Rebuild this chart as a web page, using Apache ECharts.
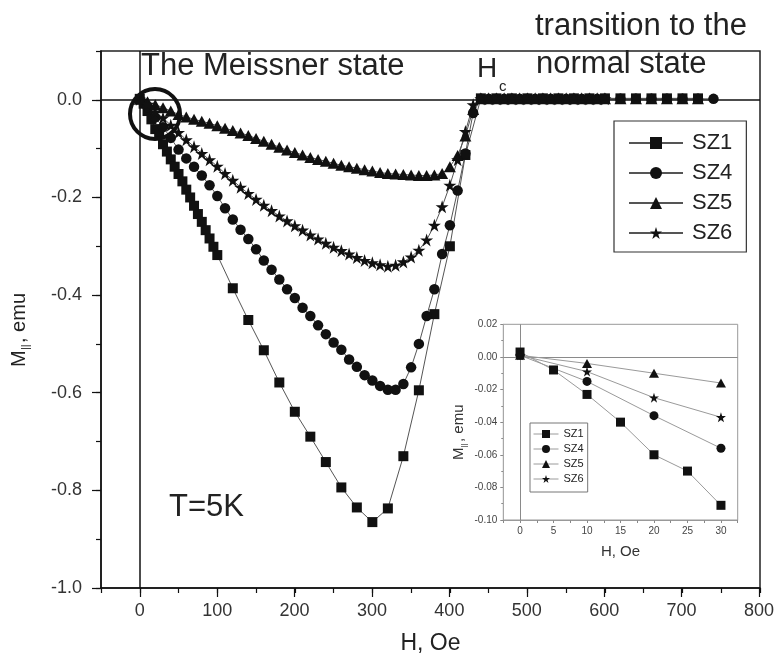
<!DOCTYPE html>
<html><head><meta charset="utf-8">
<script src="https://cdn.jsdelivr.net/npm/echarts@6/dist/echarts.min.js"></script>
<style>html,body{margin:0;padding:0;background:#fff}#c{width:777px;height:661px}</style>
</head><body><div id="c"></div>
<script>
const FONT = "'Liberation Sans', Arial, Helvetica, sans-serif";

// ---------------- main chart data (H in Oe, M in emu) ----------------
const sz1H = [0,5,10,15,20,25,30,35,40,45,50,55,60,65,70,75,80,85,90,95,100,
  120,140,160,180,200,220,240,260,280,300,320,340,360,380,400,420,
  440,460,480,500,520,540,560,580,600,620,640,660,680,700,720];
const sz1M = [0.002,-0.008,-0.023,-0.040,-0.060,-0.070,-0.091,-0.106,-0.122,-0.137,-0.152,-0.167,-0.184,-0.200,-0.217,-0.234,-0.250,-0.267,-0.284,-0.301,-0.318,
  -0.386,-0.451,-0.513,-0.579,-0.639,-0.690,-0.742,-0.794,-0.835,-0.865,-0.837,-0.730,-0.595,-0.439,-0.300,-0.113,
  0.003,0.003,0.003,0.003,0.003,0.003,0.003,0.003,0.003,0.003,0.003,0.003,0.003,0.003,0.003];

const h10 = [0,10,20,30,40,50,60,70,80,90,100,110,120,130,140,150,160,170,180,190,200,
  210,220,230,240,250,260,270,280,290,300,310,320,330,340,350,360,370,380,390,400,
  410,420,430,440,450,460,470,480,490,500,510,520,530,540,550,560,570,580,590,600];

const sz4H = h10.concat([620,640,660,680,700,720,740]);
const sz4M = [0.001,-0.015,-0.036,-0.056,-0.078,-0.102,-0.120,-0.137,-0.155,-0.175,-0.197,
  -0.222,-0.245,-0.266,-0.285,-0.306,-0.329,-0.348,-0.368,-0.388,-0.406,
  -0.426,-0.443,-0.462,-0.480,-0.497,-0.512,-0.532,-0.547,-0.564,-0.575,
  -0.586,-0.594,-0.594,-0.582,-0.548,-0.500,-0.443,-0.388,-0.316,-0.257,
  -0.186,-0.110,-0.027,
  0.002,0.002,0.002,0.002,0.002,0.002,0.002,0.002,0.002,0.002,0.002,0.002,0.002,0.002,0.002,0.002,0.002,
  0.002,0.002,0.002,0.002,0.002,0.002,0.002];

const sz5H = h10.concat([620,640,660,680,700,720]);
const sz5M = [0.001,-0.004,-0.010,-0.016,-0.023,-0.030,-0.035,-0.040,-0.044,-0.048,-0.053,
  -0.058,-0.063,-0.068,-0.073,-0.079,-0.085,-0.091,-0.097,-0.103,-0.108,
  -0.113,-0.118,-0.122,-0.126,-0.130,-0.134,-0.137,-0.140,-0.143,-0.146,
  -0.149,-0.151,-0.152,-0.153,-0.154,-0.155,-0.155,-0.154,-0.151,-0.137,
  -0.114,-0.074,-0.020,
  0.002,0.002,0.002,0.002,0.002,0.002,0.002,0.002,0.002,0.002,0.002,0.002,0.002,0.002,0.002,0.002,0.002,
  0.002,0.002,0.002,0.002,0.002,0.002];

const sz6H = h10;
const sz6M = [0.001,-0.009,-0.025,-0.037,-0.052,-0.067,-0.082,-0.096,-0.110,-0.123,-0.136,
  -0.151,-0.165,-0.179,-0.192,-0.204,-0.216,-0.227,-0.238,-0.248,-0.258,
  -0.267,-0.277,-0.285,-0.294,-0.302,-0.309,-0.316,-0.323,-0.329,-0.334,
  -0.338,-0.341,-0.339,-0.332,-0.322,-0.308,-0.287,-0.257,-0.219,-0.175,
  -0.123,-0.065,-0.010,
  0.002,0.002,0.002,0.002,0.002,0.002,0.002,0.002,0.002,0.002,0.002,0.002,0.002,0.002,0.002,0.002,0.002];

// ---------------- inset data ----------------
const in1H = [0,5,10,15,20,25,30];
const in1M = [0.003,-0.008,-0.023,-0.040,-0.060,-0.070,-0.091];
const inH = [0,10,20,30];
const in4M = [0.001,-0.015,-0.036,-0.056];
const in5M = [0.001,-0.004,-0.010,-0.016];
const in6M = [0.001,-0.009,-0.025,-0.037];

const names = ['SZ1','SZ4','SZ5','SZ6'];
const mainXTicks = {min:-50, max:800, minor:50, major:100};

const STAR = 'path://M50,0L61.2,34.5L97.6,34.5L68.2,55.9L79.4,90.5L50,69.1L20.6,90.5L31.8,55.9L2.4,34.5L38.8,34.5Z';
const pairs = (H, M) => H.map((h, i) => [h, M[i]]);

function mainSeries(name, H, M, symbol, size, extra) {
  return Object.assign({
    name, type:'line', xAxisIndex:0, yAxisIndex:0, data:pairs(H, M),
    symbol, symbolSize:size, showSymbol:true, showAllSymbol:true,
    lineStyle:{color:'#555', width:1}, itemStyle:{color:'#111'},
    emphasis:{disabled:true}, z:3
  }, extra || {});
}
function insetSeries(name, H, M, symbol, size, extra) {
  return Object.assign({
    name, type:'line', xAxisIndex:2, yAxisIndex:2, data:pairs(H, M),
    symbol, symbolSize:size, showSymbol:true,
    lineStyle:{color:'#9a9a9a', width:1}, itemStyle:{color:'#111'},
    emphasis:{disabled:true}, z:12
  }, extra || {});
}

const zeroLines = (color, width) => ({
  silent:true, symbol:['none','none'], label:{show:false},
  lineStyle:{color, width, type:'solid'}, emphasis:{disabled:true},
  data:[{xAxis:0},{yAxis:0}]
});

const chart = echarts.init(document.getElementById('c'), null, {renderer:'canvas'});
const tickLine = {color:'#111', width:1.2};

chart.setOption({
  animation:false,
  backgroundColor:'#fff',
  color:['#111'],
  textStyle:{fontFamily:FONT},
  grid:[
    {left:101, top:51, right:17, bottom:73, show:true, borderColor:'#222', borderWidth:1.5, backgroundColor:'transparent'},
    {left:139.76, top:99.82, right:17, bottom:73, show:false},
    {left:503.3, top:324.3, right:39.3, bottom:141, show:true, borderColor:'#999', borderWidth:1, backgroundColor:'#fff', z:5}
  ],
  xAxis:[
    {gridIndex:0, type:'value', min:mainXTicks.min, max:mainXTicks.max, interval:mainXTicks.minor,
     axisLine:{show:true, onZero:false, lineStyle:{color:'#111', width:1.5}},
     axisTick:{show:true, length:5, lineStyle:tickLine}, axisLabel:{show:false}, splitLine:{show:false},
     name:'H, Oe', nameLocation:'middle', nameGap:44,
     nameTextStyle:{fontSize:23, color:'#222', fontFamily:FONT}},
    {gridIndex:1, type:'value', min:0, max:mainXTicks.max, interval:mainXTicks.major,
     axisLine:{show:false, onZero:false}, axisTick:{show:true, length:9, lineStyle:tickLine},
     axisLabel:{fontSize:18, color:'#333', margin:14, fontFamily:FONT}, splitLine:{show:false}},
    {gridIndex:2, type:'value', min:-2.5, max:32.5, interval:2.5,
     axisLine:{show:true, onZero:false, lineStyle:{color:'#999', width:1}},
     axisTick:{show:true, length:3, lineStyle:{color:'#888'}},
     axisLabel:{fontSize:10, color:'#444', margin:6, fontFamily:FONT,
       formatter:v => (Math.abs(v % 5) < 1e-9 ? String(v) : '')},
     splitLine:{show:false},
     name:'H, Oe', nameLocation:'middle', nameGap:24,
     nameTextStyle:{fontSize:15, color:'#333', fontFamily:FONT}}
  ],
  yAxis:[
    {gridIndex:0, type:'value', min:-1.0, max:0.1, interval:0.1,
     axisLine:{show:true, onZero:false, lineStyle:{color:'#111', width:1.5}},
     axisTick:{show:true, length:5, lineStyle:tickLine}, axisLabel:{show:false}, splitLine:{show:false}},
    {gridIndex:1, type:'value', min:-1.0, max:0, interval:0.2, offset:38.76,
     axisLine:{show:false, onZero:false}, axisTick:{show:true, length:9, lineStyle:tickLine},
     axisLabel:{fontSize:18, color:'#333', margin:19, fontFamily:FONT, formatter:v => v.toFixed(1)},
     splitLine:{show:false}},
    {gridIndex:2, type:'value', min:-0.10, max:0.02, interval:0.02,
     axisLine:{show:true, onZero:false, lineStyle:{color:'#999', width:1}},
     axisTick:{show:true, length:3, lineStyle:{color:'#888'}},
     minorTick:{show:true, splitNumber:2, length:2, lineStyle:{color:'#888'}},
     axisLabel:{fontSize:10, color:'#444', margin:6, fontFamily:FONT, formatter:v => v.toFixed(2)},
     splitLine:{show:false}}
  ],
  legend:[
    {data:names, orient:'vertical', left:614, top:121, padding:[11,14,8,14],
     itemWidth:54, itemHeight:15, itemGap:8, selectedMode:false,
     borderColor:'#333', borderWidth:1.2, backgroundColor:'#fff',
     textStyle:{fontSize:22, lineHeight:22, color:'#222', fontFamily:FONT, padding:[0,0,0,4]}},
    {data:names, orient:'vertical', left:530, top:423, padding:[5,4,7,3],
     itemWidth:25, itemHeight:10, itemGap:3, selectedMode:false,
     borderColor:'#777', borderWidth:1, backgroundColor:'#fff', z:20,
     lineStyle:{color:'#9a9a9a', width:1},
     textStyle:{fontSize:11, lineHeight:12, color:'#222', fontFamily:FONT}}
  ],
  series:[
    mainSeries('SZ1', sz1H, sz1M, 'rect', 10, {markLine:zeroLines('#111', 1.5)}),
    mainSeries('SZ4', sz4H, sz4M, 'circle', 10.5),
    mainSeries('SZ5', sz5H, sz5M, 'triangle', [12,11]),
    mainSeries('SZ6', sz6H, sz6M, STAR, 13),
    insetSeries('SZ1', in1H, in1M, 'rect', 9, {markLine:zeroLines('#8a8a8a', 1)}),
    insetSeries('SZ4', inH, in4M, 'circle', 9),
    insetSeries('SZ5', inH, in5M, 'triangle', [10,9]),
    insetSeries('SZ6', inH, in6M, STAR, 10)
  ],
  graphic:[
    {type:'circle', shape:{cx:155, cy:114, r:25}, style:{fill:'none', stroke:'#111', lineWidth:4}, z:100},
    {type:'text', x:141, y:66.5, z:100, style:{text:'The Meissner state', fontSize:31, fontFamily:FONT, fill:'#222', textVerticalAlign:'middle', verticalAlign:'middle'}},
    {type:'text', x:535, y:26, z:100, style:{text:'transition to the', fontSize:31, fontFamily:FONT, fill:'#222', textVerticalAlign:'middle', verticalAlign:'middle'}},
    {type:'text', x:536, y:64, z:100, style:{text:'normal state', fontSize:31, fontFamily:FONT, fill:'#222', textVerticalAlign:'middle', verticalAlign:'middle'}},
    {type:'text', x:477, y:69, z:100, style:{text:'H', fontSize:28, fontFamily:FONT, fill:'#222', textVerticalAlign:'middle', verticalAlign:'middle'}},
    {type:'text', x:499, y:87, z:100, style:{text:'c', fontSize:15, fontFamily:FONT, fill:'#222', textVerticalAlign:'middle', verticalAlign:'middle'}},
    {type:'text', x:169, y:507, z:100, style:{text:'T=5K', fontSize:31, fontFamily:FONT, fill:'#222', textVerticalAlign:'middle', verticalAlign:'middle'}},
    {type:'group', x:19, y:330, rotation:Math.PI/2, z:100, children:[
      {type:'text', x:-37, y:0, style:{text:'M', fontSize:20, fontFamily:FONT, fill:'#222', textVerticalAlign:'middle', verticalAlign:'middle'}},
      {type:'text', x:-20, y:7, style:{text:'||', fontSize:11, fontFamily:FONT, fill:'#222', textVerticalAlign:'middle', verticalAlign:'middle'}},
      {type:'text', x:-13, y:0, style:{text:', emu', fontSize:20, fontFamily:FONT, fill:'#222', textVerticalAlign:'middle', verticalAlign:'middle'}}
    ]},
    {type:'group', x:459, y:432, rotation:Math.PI/2, z:100, children:[
      {type:'text', x:-28, y:0, style:{text:'M', fontSize:15, fontFamily:FONT, fill:'#333', textVerticalAlign:'middle', verticalAlign:'middle'}},
      {type:'text', x:-15.5, y:5, style:{text:'||', fontSize:8, fontFamily:FONT, fill:'#333', textVerticalAlign:'middle', verticalAlign:'middle'}},
      {type:'text', x:-10, y:0, style:{text:', emu', fontSize:15, fontFamily:FONT, fill:'#333', textVerticalAlign:'middle', verticalAlign:'middle'}}
    ]}
  ]
});
</script>
</body></html>
